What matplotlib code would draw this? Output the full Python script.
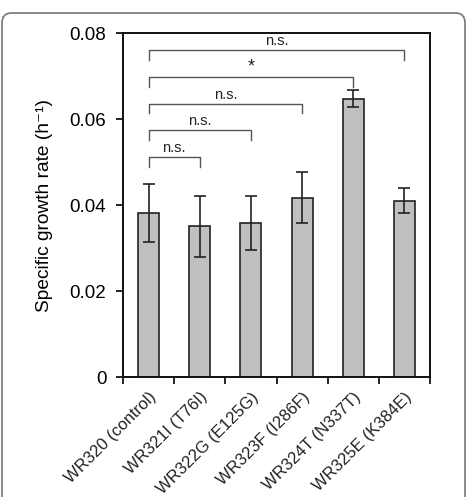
import numpy as np
import matplotlib.pyplot as plt
from matplotlib.patches import FancyBboxPatch

strains = ["WR320 (control)", "WR321I (T76I)", "WR322G (E125G)",
           "WR323F (I286F)", "WR324T (N337T)", "WR325E (K384E)"]
rates = [0.0381, 0.0350, 0.0358, 0.0417, 0.0647, 0.0410]
errors = [0.0067, 0.0070, 0.0063, 0.0060, 0.0020, 0.0029]

# comparisons against the control: (target index, bracket height, label)
comp_target = [1, 2, 3, 4, 5]
comp_level = [0.0512, 0.0574, 0.0636, 0.0698, 0.0760]
comp_label = ["n.s.", "n.s.", "n.s.", "*", "n.s."]

plt.rcParams["font.family"] = ["Liberation Sans", "DejaVu Sans"]

fig = plt.figure(figsize=(4.67, 4.97), dpi=100)
ax = fig.add_axes([123 / 467, 1 - 377 / 497, 307 / 467, 344 / 497])

# rounded frame around the whole figure
frame = FancyBboxPatch((2 / 467, -0.05), 463 / 467, 1.05 - 13 / 497,
                       boxstyle="round,pad=0,rounding_size=0.02",
                       transform=fig.transFigure, fill=False,
                       edgecolor="#777777", linewidth=1.2)
fig.patches.append(frame)

x = np.arange(len(strains))
ax.bar(x, rates, width=0.41, color="#c0c0c0", edgecolor="#222222", linewidth=1.2)
ax.errorbar(x, rates, yerr=errors, fmt="none", ecolor="#222222",
            elinewidth=1.2, capsize=4, capthick=1.2)

leg = 0.0023
for t, lvl, lab in zip(comp_target, comp_level, comp_label):
    ax.plot([0, 0, t, t], [lvl - leg, lvl, lvl, lvl - leg],
            color="#555555", linewidth=1.0)
    ax.text(t / 2, lvl + 0.0004, lab, ha="center", va="bottom",
            fontsize=10.5 if lab != "*" else 13, color="#222222")

ax.set_xlim(-0.5, 5.5)
ax.set_ylim(0, 0.08)
ax.set_yticks([0, 0.02, 0.04, 0.06, 0.08])
ax.set_yticklabels(["0", "0.02", "0.04", "0.06", "0.08"], fontsize=13.5)
ax.set_xticks(np.arange(-0.5, 6, 1))
ax.set_xticklabels([])
ax.set_xticks(x, minor=True)
ax.set_xticklabels(strains, minor=True, rotation=45, ha="right",
                   rotation_mode="anchor", fontsize=12, color="#222222")
ax.tick_params(axis="x", which="minor", length=0, pad=9)
ax.tick_params(axis="x", which="major", direction="out", length=5, width=1.2)
ax.tick_params(axis="y", direction="out", length=5, width=1.2, pad=7)
for s in ax.spines.values():
    s.set_linewidth(1.4)
    s.set_color("#111111")

ax.set_ylabel("Specific growth rate (h\u207b\u00b9)", fontsize=13.8,
              labelpad=12)

fig.savefig("out.png", dpi=100)
